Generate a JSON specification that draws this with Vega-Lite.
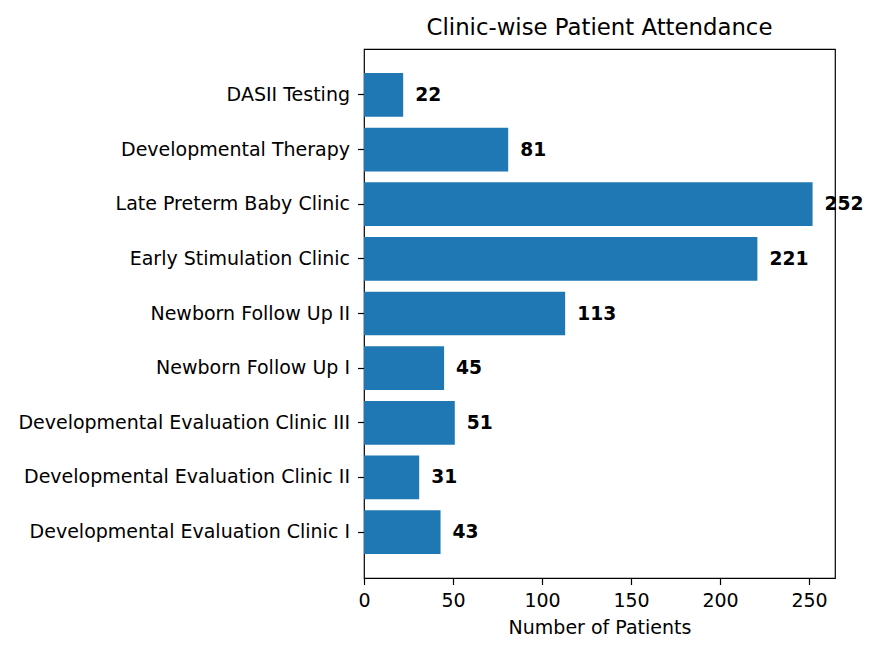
{
  "$schema": "https://vega.github.io/schema/vega-lite/v6.json",
  "width": 471,
  "height": 529,
  "autosize": {"type": "none"},
  "padding": {"left": 364, "top": 49, "right": 42, "bottom": 73},
  "background": "white",
  "title": {
    "text": "Clinic-wise Patient Attendance",
    "font": "DejaVu Sans",
    "fontSize": 22.8,
    "fontWeight": "normal",
    "color": "#000000",
    "offset": 9,
    "anchor": "middle"
  },
  "config": {
    "view": {"stroke": "#000000", "strokeWidth": 1.2},
    "axis": {
      "labelFont": "DejaVu Sans",
      "labelFontSize": 19,
      "labelColor": "#000000",
      "titleFont": "DejaVu Sans",
      "titleFontSize": 19,
      "titleFontWeight": "normal",
      "titleColor": "#000000",
      "tickColor": "#000000",
      "tickSize": 6.5,
      "tickWidth": 1.2,
      "domain": false,
      "grid": false
    }
  },
  "data": {
    "values": [
      {"clinic": "DASII Testing", "patients": 22},
      {"clinic": "Developmental Therapy", "patients": 81},
      {"clinic": "Late Preterm Baby Clinic", "patients": 252},
      {"clinic": "Early Stimulation Clinic", "patients": 221},
      {"clinic": "Newborn Follow Up II", "patients": 113},
      {"clinic": "Newborn Follow Up I", "patients": 45},
      {"clinic": "Developmental Evaluation Clinic III", "patients": 51},
      {"clinic": "Developmental Evaluation Clinic II", "patients": 31},
      {"clinic": "Developmental Evaluation Clinic I", "patients": 43}
    ]
  },
  "encoding": {
    "y": {
      "field": "clinic",
      "type": "nominal",
      "sort": null,
      "scale": {"paddingInner": 0.2, "paddingOuter": 0.44},
      "axis": {"title": null, "labelPadding": 8, "labelLimit": 400}
    },
    "x": {
      "field": "patients",
      "type": "quantitative",
      "scale": {"domain": [0, 264.6], "nice": false, "zero": true},
      "axis": {"title": "Number of Patients", "values": [0, 50, 100, 150, 200, 250], "labelPadding": 7, "titlePadding": 8, "labelFlush": false}
    }
  },
  "layer": [
    {"mark": {"type": "bar", "color": "#1f77b4"}},
    {
      "mark": {"type": "text", "align": "left", "baseline": "middle", "dx": 12, "font": "DejaVu Sans", "fontSize": 18.7, "fontWeight": "bold", "color": "#000000"},
      "encoding": {"text": {"field": "patients", "type": "quantitative"}}
    }
  ]
}
